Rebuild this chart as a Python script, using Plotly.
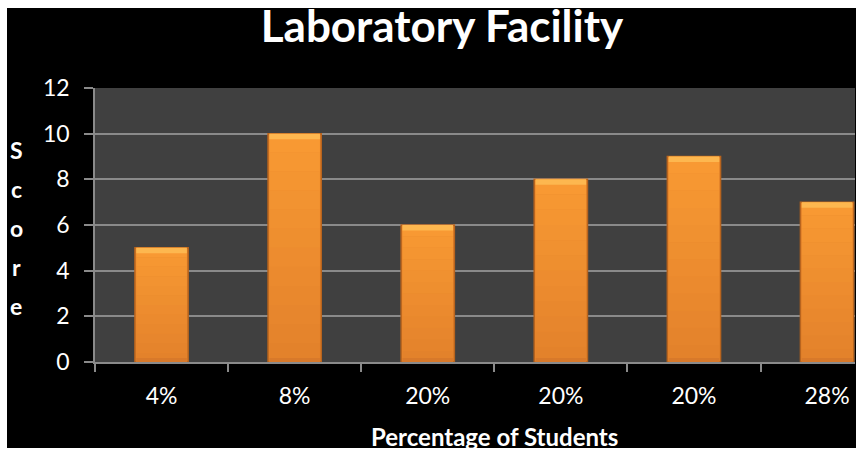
import plotly.graph_objects as go

# ---- data ----
categories = ["4%", "8%", "20%", "20%", "20%", "28%"]
scores = [5, 10, 6, 8, 9, 7]
y_ticks = [0, 2, 4, 6, 8, 10, 12]
title_text = "Laboratory Facility"
x_title = "Percentage of Students"
y_title = "Score"

W, H = 856, 450
L, R, T, B = 95, 1, 88, 88
PW, PH = W - L - R, H - T - B

def px_x(x):
    return (x - L) / PW

def px_y(y):
    return (H - B - y) / PH

xs = list(range(len(categories)))
cap = 0.24

def mix(c1, c2, t):
    a = [int(c1[i:i + 2], 16) for i in (1, 3, 5)]
    b = [int(c2[i:i + 2], 16) for i in (1, 3, 5)]
    return "#" + "".join("%02X" % round(a[k] + (b[k] - a[k]) * t) for k in range(3))

fig = go.Figure()
# main bar body with outline
fig.add_trace(go.Bar(
    x=xs, y=scores, width=0.4,
    marker=dict(color="#E8862C", line=dict(color="#B8641E", width=1.5)),
    hoverinfo="skip", showlegend=False,
))
# vertical tone gradient in bands (fractions of each bar's height)
n = 12
for k in range(n):
    f0, f1 = k / n, (k + 1) / n
    col = mix("#E2812B", "#F99A33", (k + 0.5) / n)
    fig.add_trace(go.Bar(
        x=xs, y=[v * (f1 - f0) for v in scores], base=[v * f0 for v in scores], width=0.38,
        marker=dict(color=col, line=dict(width=0)),
        hoverinfo="skip", showlegend=False,
    ))
# darker bottom bevel
fig.add_trace(go.Bar(
    x=xs, y=[0.18] * len(scores), base=[0] * len(scores), width=0.38,
    marker=dict(color="#D8792A", line=dict(width=0)),
    hoverinfo="skip", showlegend=False,
))
# lighter top bevel
fig.add_trace(go.Bar(
    x=xs, y=[cap] * len(scores), base=[v - cap for v in scores], width=0.38,
    marker=dict(color="#FDB74F", line=dict(width=0)),
    hoverinfo="skip", showlegend=False,
))

fig.update_layout(
    width=W, height=H, autosize=False,
    margin=dict(l=L, r=R, t=T, b=B, pad=0),
    paper_bgcolor="black", plot_bgcolor="#404040",
    barmode="overlay",
    font=dict(family="Lato", color="white"),
    title=dict(text="<b>" + title_text + "</b>", x=442 / W, xanchor="center",
               xref="container", yref="container", y=1 - 27 / H, yanchor="middle",
               font=dict(size=44, color="white", family="Lato")),
    xaxis=dict(
        range=[-0.5, 5.21], tickmode="array", tickvals=xs, ticktext=categories,
        ticks="", showgrid=False, zeroline=False,
        showline=True, linecolor="#8A8A8A", linewidth=2,
        tickfont=dict(size=23, color="white"), ticklabelstandoff=12,
        minor=dict(tickmode="array", tickvals=[i - 0.5 for i in range(len(categories) + 1)],
                   ticks="outside", ticklen=8, tickcolor="#8A8A8A", tickwidth=1.5, showgrid=False),
        fixedrange=True,
    ),
    yaxis=dict(
        range=[0, 12], tickmode="array", tickvals=y_ticks,
        showgrid=True, gridcolor="#8A8A8A", gridwidth=2, zeroline=False,
        showline=True, linecolor="#8A8A8A", linewidth=1.5,
        ticks="outside", ticklen=9, tickcolor="#8A8A8A", tickwidth=1.5,
        tickfont=dict(size=23, color="white"), ticklabelstandoff=10,
        fixedrange=True,
    ),
    shapes=[
        dict(type="rect", xref="paper", yref="paper", x0=px_x(0), x1=px_x(7), y0=px_y(H), y1=px_y(0),
             fillcolor="white", line=dict(width=0), layer="above"),
        dict(type="rect", xref="paper", yref="paper", x0=px_x(0), x1=px_x(W), y0=px_y(8), y1=px_y(0),
             fillcolor="white", line=dict(width=0), layer="above"),
        dict(type="rect", xref="paper", yref="paper", x0=px_x(0), x1=px_x(W), y0=px_y(H), y1=px_y(448),
             fillcolor="white", line=dict(width=0), layer="above"),
    ],
)

annotations = [
    dict(text="<b>" + x_title + "</b>", xref="paper", yref="paper", x=px_x(494), y=px_y(436),
         xanchor="center", yanchor="middle", showarrow=False, font=dict(size=24, color="white", family="Lato")),
]
for i, ch in enumerate(y_title):
    annotations.append(dict(text="<b>" + ch + "</b>", xref="paper", yref="paper",
                            x=px_x(16), y=px_y(150 + i * 39), xanchor="center", yanchor="middle",
                            showarrow=False, font=dict(size=23, color="white", family="Lato")))
fig.update_layout(annotations=annotations)

fig.write_html("out.html", config={"displayModeBar": False})

with open("out.html", "r", encoding="utf-8") as fh:
    html = fh.read()
html = html.replace("<head>", "<head><style>html,body{margin:0;padding:0;overflow:hidden;background:black;}</style>", 1)
with open("out.html", "w", encoding="utf-8") as fh:
    fh.write(html)
